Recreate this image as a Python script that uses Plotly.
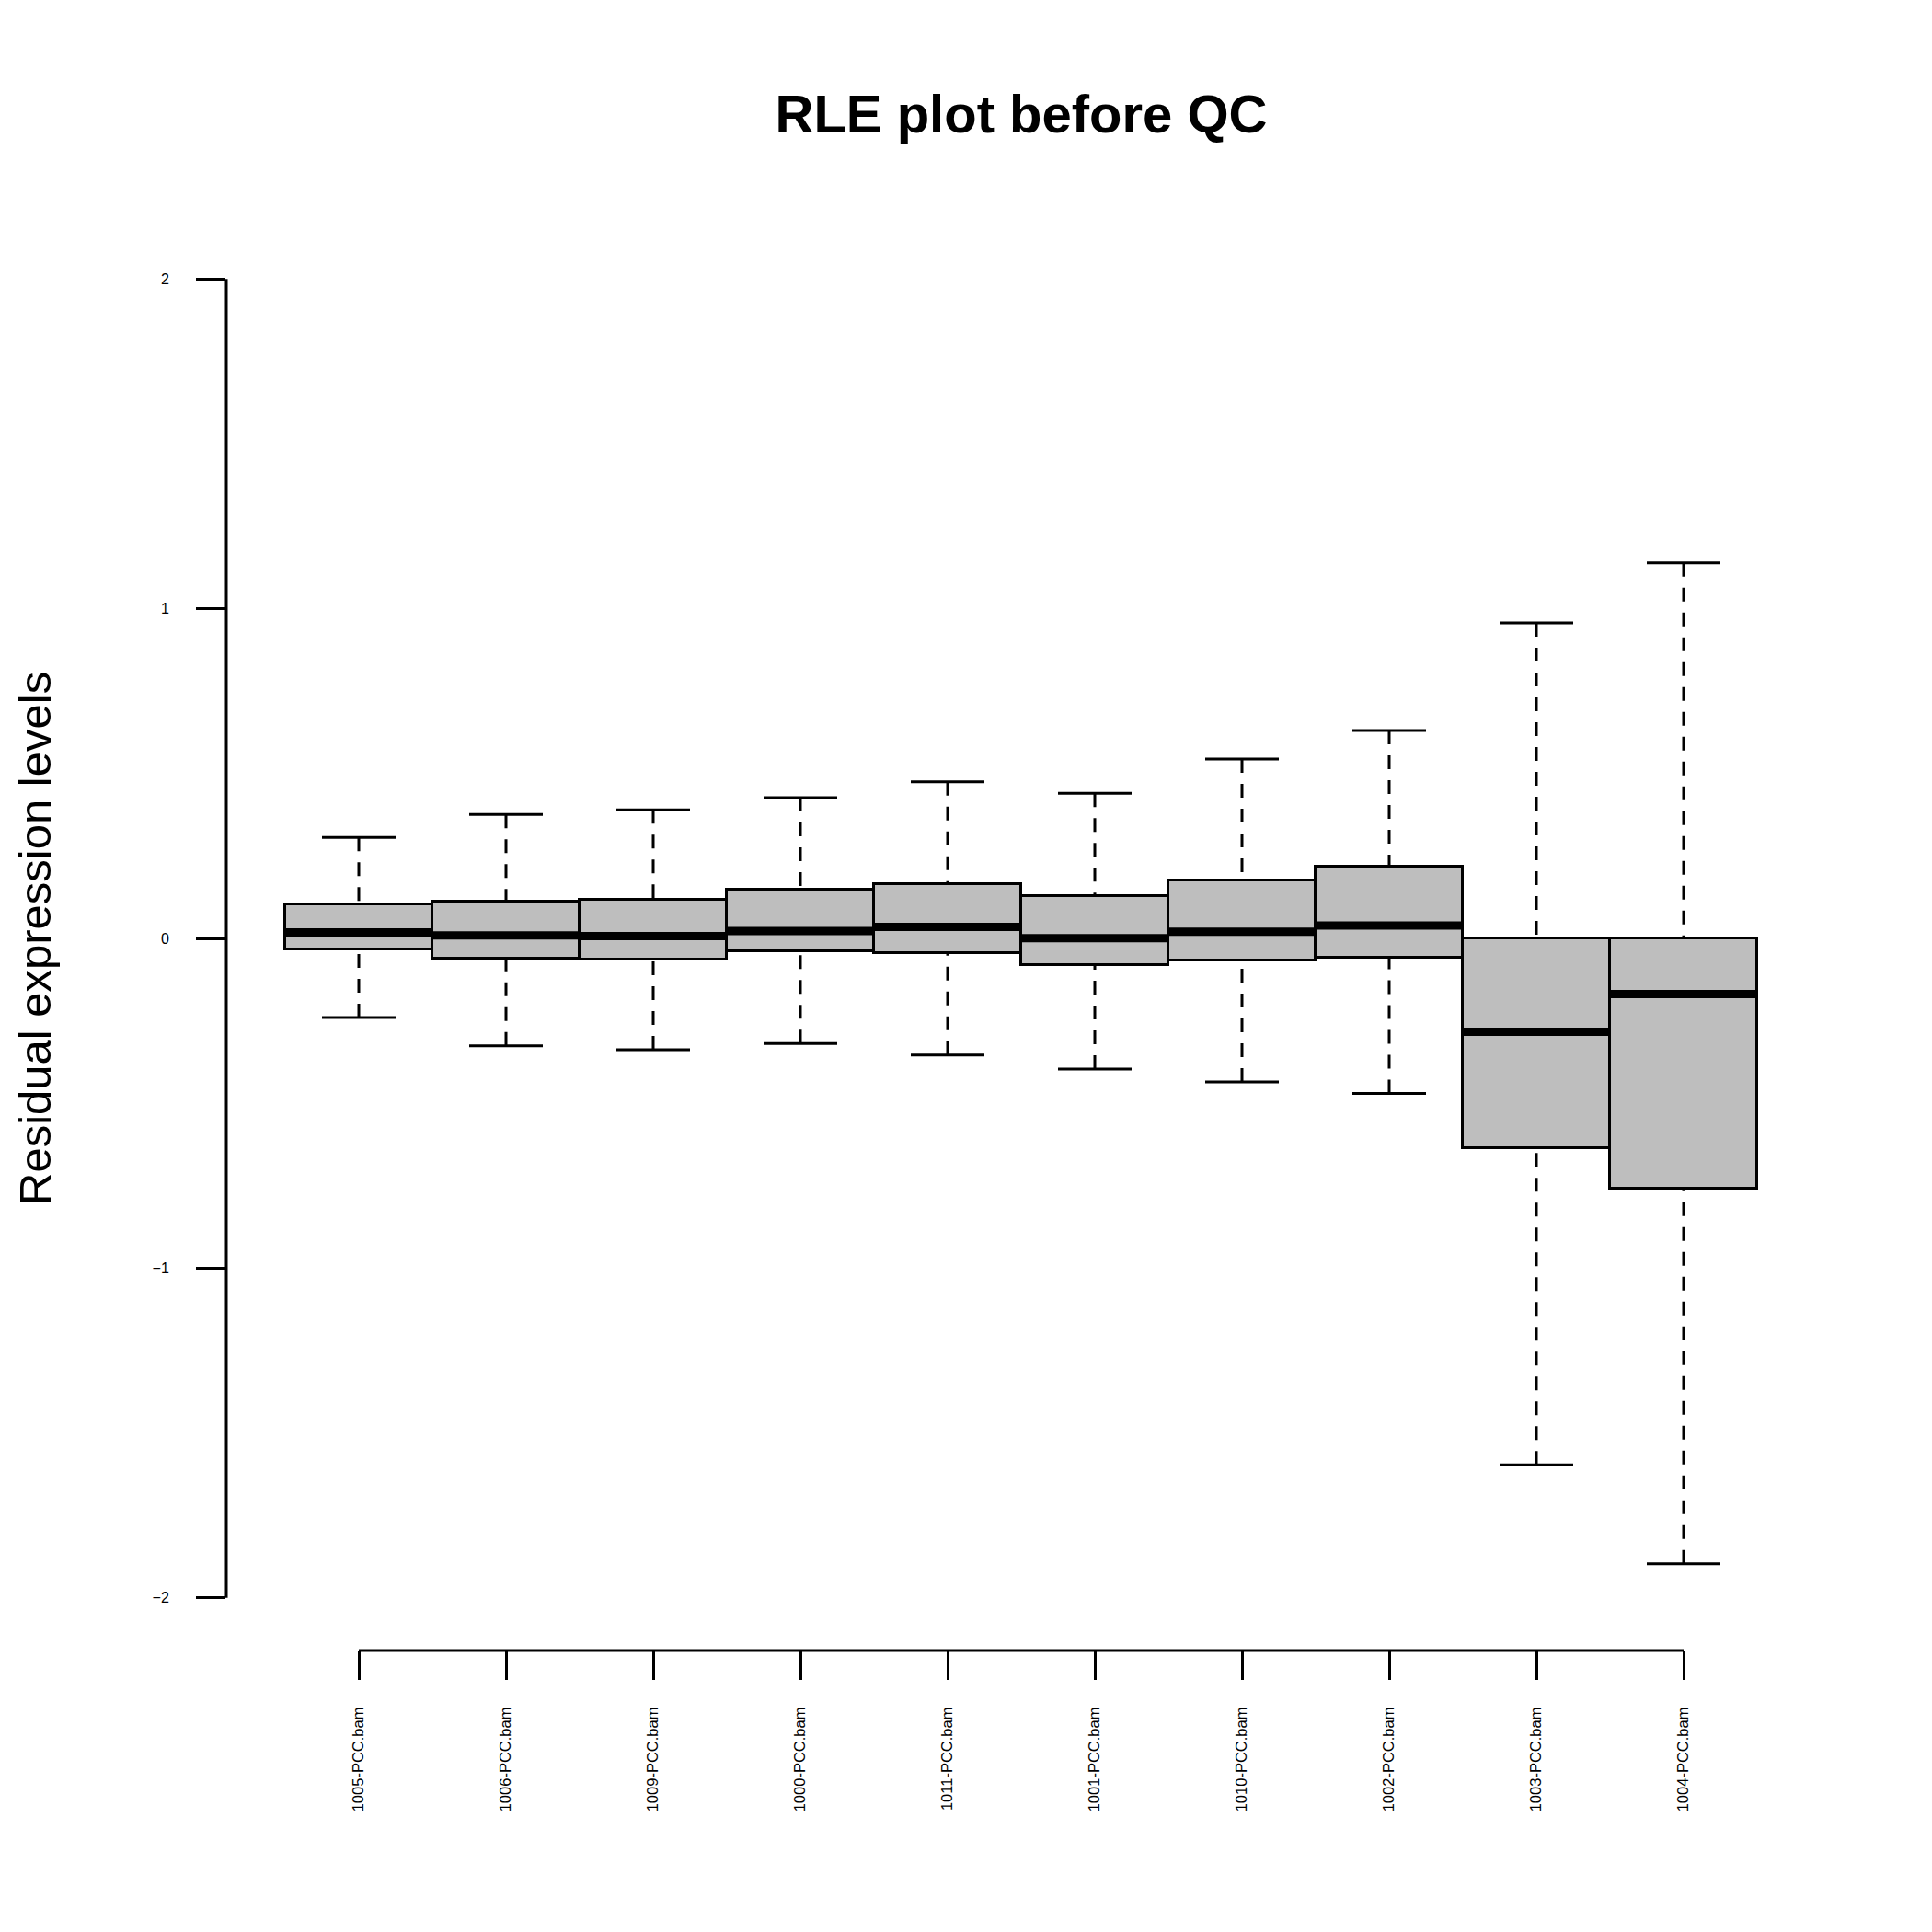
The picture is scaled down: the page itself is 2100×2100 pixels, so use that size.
import plotly.graph_objects as go

# Sample names and box statistics
samples = ["1005-PCC.bam", "1006-PCC.bam", "1009-PCC.bam", "1000-PCC.bam", "1011-PCC.bam",
           "1001-PCC.bam", "1010-PCC.bam", "1002-PCC.bam", "1003-PCC.bam", "1004-PCC.bam"]
upper_whisker = [0.306, 0.376, 0.390, 0.427, 0.475, 0.440, 0.544, 0.631, 0.957, 1.139]
q3 = [0.104, 0.113, 0.118, 0.149, 0.164, 0.127, 0.176, 0.217, 0.0, 0.0]
median = [0.018, 0.009, 0.007, 0.022, 0.035, 0.001, 0.020, 0.039, -0.283, -0.169]
q1 = [-0.033, -0.061, -0.064, -0.039, -0.044, -0.081, -0.067, -0.058, -0.637, -0.760]
lower_whisker = [-0.240, -0.326, -0.338, -0.319, -0.354, -0.396, -0.435, -0.470, -1.597, -1.897]

y_ticks = [-2, -1, 0, 1, 2]
y_ticktext = ["\u22122", "\u22121", "0", "1", "2"]

pos = list(range(1, len(samples) + 1))
font = "Liberation Sans, Arial, Helvetica, sans-serif"

fig = go.Figure()

# Dashed whiskers from the whisker end to the box
wx, wy = [], []
for i, p in enumerate(pos):
    wx += [p, p, None, p, p, None]
    wy += [upper_whisker[i], q3[i], None, lower_whisker[i], q1[i], None]
fig.add_trace(go.Scatter(
    x=wx, y=wy, mode="lines",
    line={"color": "black", "width": 3, "dash": "15px,12px"},
    hoverinfo="skip", showlegend=False
))

# Boxes (Q1..Q3)
fig.add_trace(go.Bar(
    x=pos,
    y=[q3[i] - q1[i] for i in range(len(pos))],
    base=q1,
    width=1,
    marker={"color": "#BEBEBE", "line": {"color": "black", "width": 3}},
    hoverinfo="skip", showlegend=False
))

# Thick median lines
mx, my = [], []
for i, p in enumerate(pos):
    mx += [p - 0.5, p + 0.5, None]
    my += [median[i], median[i], None]
fig.add_trace(go.Scatter(
    x=mx, y=my, mode="lines",
    line={"color": "black", "width": 9},
    hoverinfo="skip", showlegend=False
))

# Whisker caps
cx, cy = [], []
for i, p in enumerate(pos):
    cx += [p - 0.25, p + 0.25, None, p - 0.25, p + 0.25, None]
    cy += [upper_whisker[i], upper_whisker[i], None, lower_whisker[i], lower_whisker[i], None]
fig.add_trace(go.Scatter(
    x=cx, y=cy, mode="lines",
    line={"color": "black", "width": 3},
    hoverinfo="skip", showlegend=False
))

# R-style axis lines spanning only the ticks
fig.add_shape(type="line", xref="paper", yref="y", x0=0, x1=0,
              y0=min(y_ticks), y1=max(y_ticks), line={"color": "black", "width": 3})
fig.add_shape(type="line", xref="x", yref="paper", x0=pos[0], x1=pos[-1],
              y0=0, y1=0, line={"color": "black", "width": 3})

# page body adds 8px, margins are shifted to make up for it
fig.update_layout(
    width=2100,
    height=2100,
    margin={"l": 238, "r": 134, "t": 238, "b": 314},
    plot_bgcolor="white",
    paper_bgcolor="white",
    bargap=0,
    font={"family": font, "color": "black"},
    title={"text": "<b>RLE plot before QC</b>", "x": 0.5, "xref": "paper", "xanchor": "center",
           "y": 1 - 116 / 2100, "yanchor": "middle", "font": {"size": 58, "family": font}},
    xaxis={"range": [0.1, 10.9], "tickvals": pos, "ticktext": samples, "tickangle": -90,
           "ticks": "outside", "ticklen": 31, "tickwidth": 3, "tickcolor": "black",
           "tickfont": {"size": 16.5}, "ticklabelstandoff": 23,
           "showline": False, "showgrid": False, "zeroline": False},
    yaxis={"range": [-2.16, 2.16], "tickvals": y_ticks, "ticktext": y_ticktext,
           "ticks": "outside", "ticklen": 32, "tickwidth": 3, "tickcolor": "black",
           "tickfont": {"size": 16}, "ticklabelstandoff": 26,
           "showline": False, "showgrid": False, "zeroline": False}
)

# Y axis label
fig.add_annotation(
    text="Residual expression levels",
    xref="paper", yref="paper", x=(30 - 238) / 1728, y=0.5,
    xanchor="center", yanchor="middle", textangle=-90, showarrow=False,
    font={"size": 49, "family": font}
)

fig.write_html("out.html")
